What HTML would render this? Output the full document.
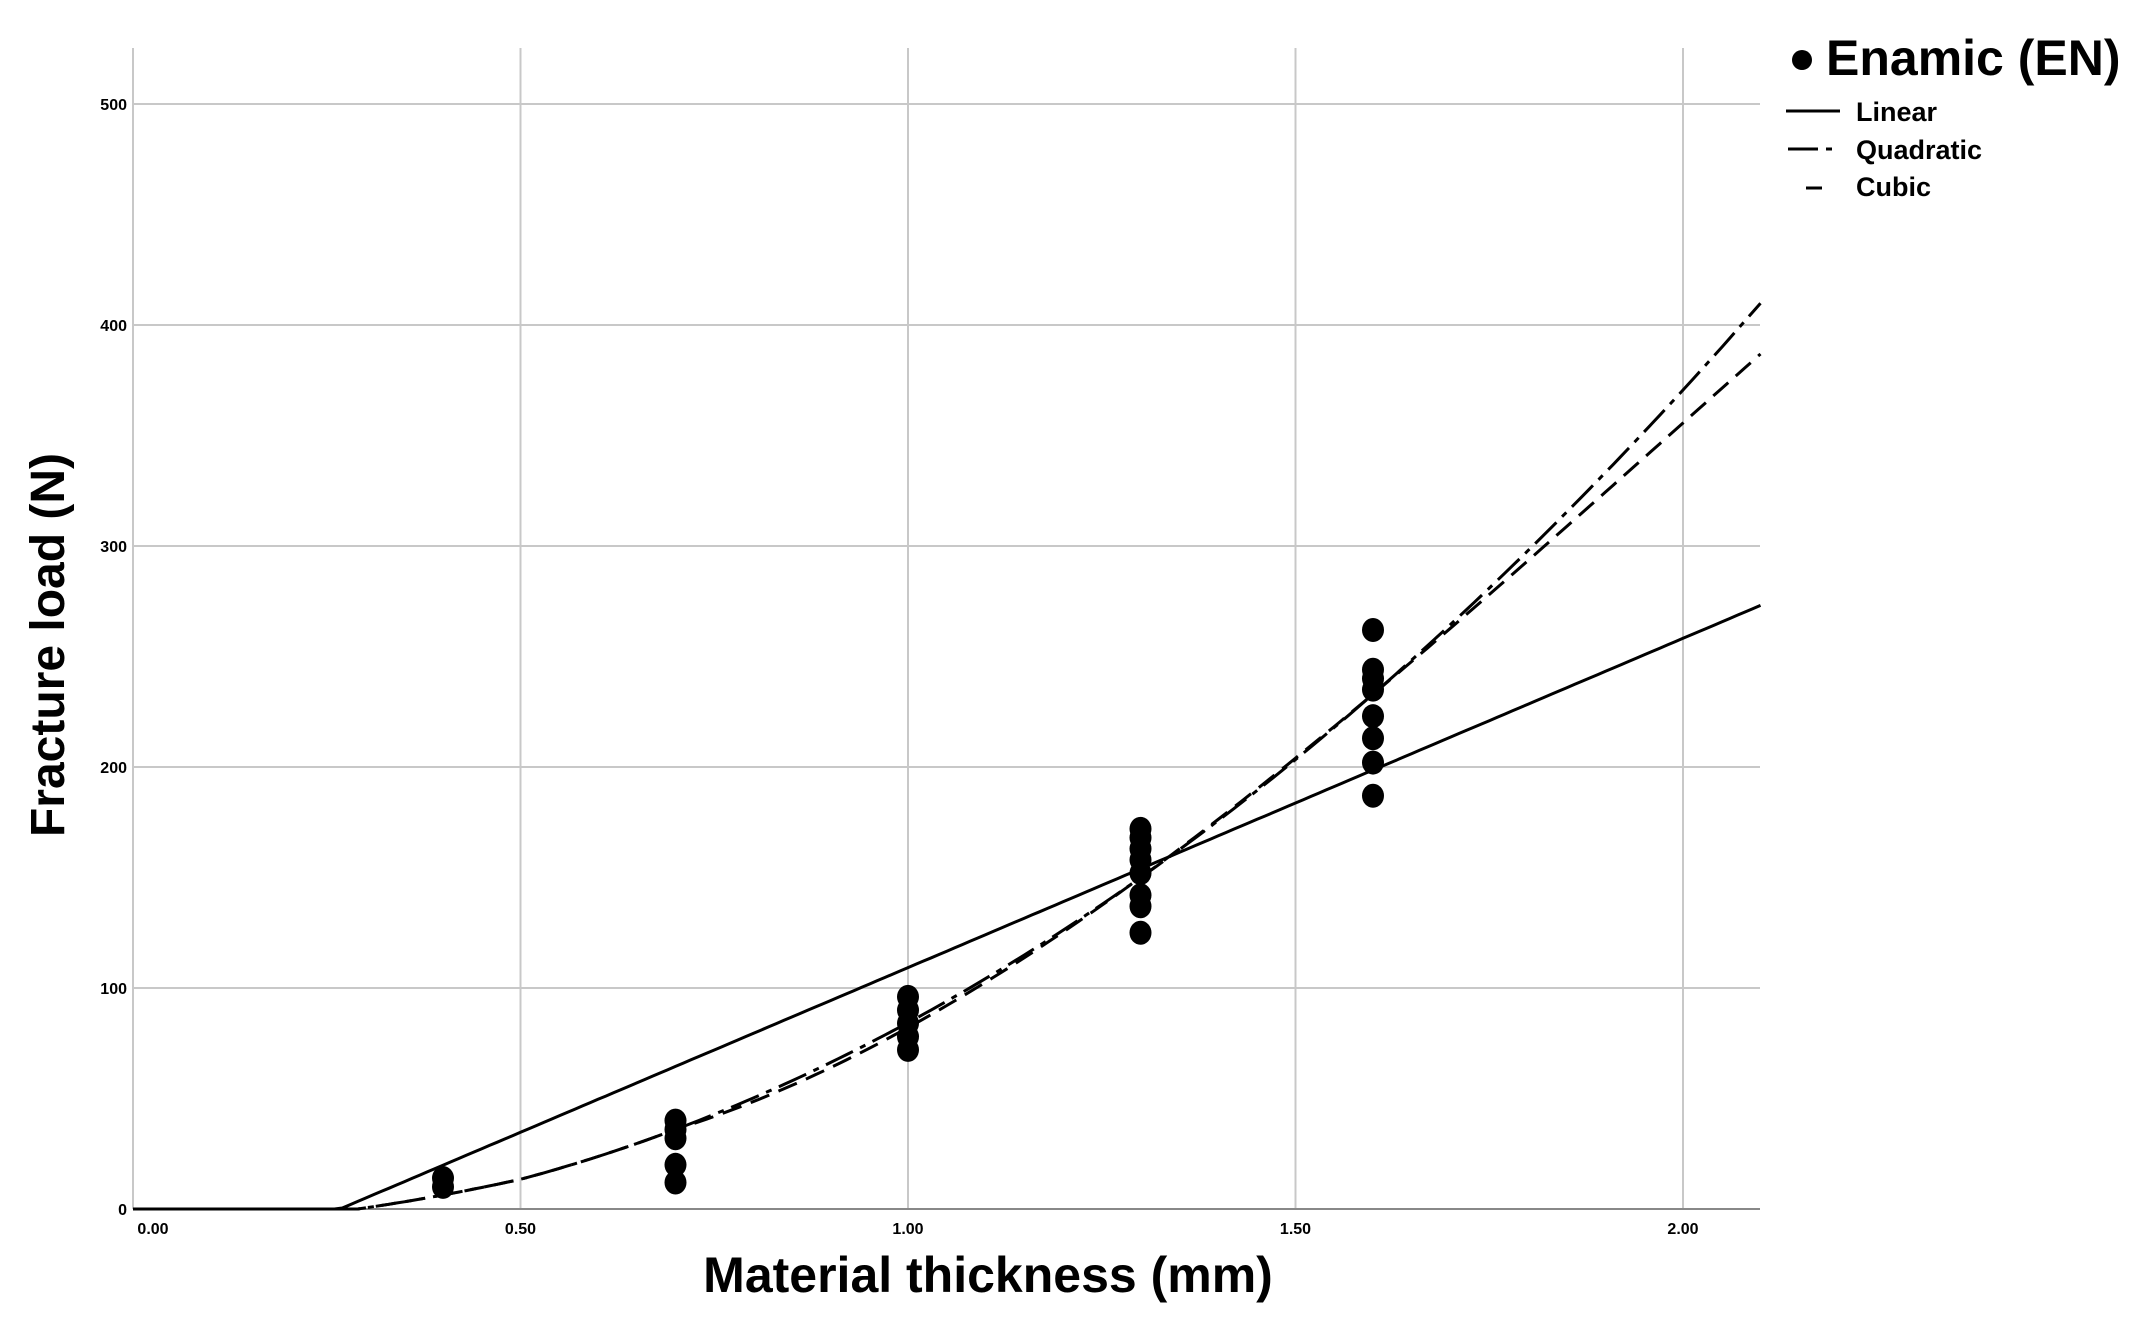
<!DOCTYPE html>
<html><head><meta charset="utf-8"><style>
html,body{margin:0;padding:0;background:#fff;}
svg{display:block;}
text{font-family:"Liberation Sans",Arial,sans-serif;font-weight:bold;fill:#000;}
</style></head><body>
<svg id="s" width="2146" height="1320" viewBox="0 0 2146 1320" xmlns="http://www.w3.org/2000/svg">
<g id="grid" stroke="#c8c8c8" stroke-width="2"></g>
<g id="ticks"></g>
<g id="curves" fill="none" stroke="#000" stroke-width="3"></g>
<g id="pts" fill="#000"></g>
<text x="988" y="1292" font-size="50" text-anchor="middle">Material thickness (mm)</text>
<text transform="translate(64,645) rotate(-90)" font-size="48" text-anchor="middle">Fracture load (N)</text>
<circle cx="1802" cy="60" r="10" fill="#000"/>
<text x="1826" y="75" font-size="50">Enamic (EN)</text>
<line x1="1786" y1="111" x2="1840" y2="111" stroke="#000" stroke-width="3"/>
<text x="1856" y="121" font-size="27">Linear</text>
<line x1="1788" y1="149" x2="1818" y2="149" stroke="#000" stroke-width="3"/>
<line x1="1826" y1="149" x2="1832" y2="149" stroke="#000" stroke-width="3"/>
<text x="1856" y="159" font-size="27">Quadratic</text>
<line x1="1806" y1="188" x2="1822" y2="188" stroke="#000" stroke-width="3"/>
<text x="1856" y="196" font-size="27">Cubic</text>
</svg>
<script>
var NS="http://www.w3.org/2000/svg";
function X(v){return 133+775*v;} function Y(v){return 1209-2.21*v;}
var L=133,R=1760,T=48,B=1209;
function el(p,t,a,txt){var e=document.createElementNS(NS,t);for(var k in a)e.setAttribute(k,a[k]);if(txt!==undefined)e.textContent=txt;document.getElementById(p).appendChild(e);return e;}
[0,0.5,1,1.5,2].forEach(function(v){el("grid","line",{x1:X(v),x2:X(v),y1:T,y2:B});
 el("ticks","text",{x:X(v)+(v==0?20:0),y:1234,"font-size":16,"text-anchor":"middle"},v.toFixed(2));});
[100,200,300,400,500].forEach(function(v){el("grid","line",{x1:L,x2:R,y1:Y(v),y2:Y(v)});});
[0,100,200,300,400,500].forEach(function(v){el("ticks","text",{x:127,y:Y(v)+6,"font-size":16,"text-anchor":"end"},v);});
el("ticks","line",{x1:L,x2:R,y1:B,y2:B,stroke:"#888","stroke-width":2});
function path(f,x0,dash){var d="";for(var x=x0;x<=2.1001;x+=0.01){var y=Math.max(0,f(x));d+=(d?"L":"M")+X(x).toFixed(1)+","+Y(y).toFixed(1);}
 var a={d:d};if(dash)a["stroke-dasharray"]=dash;el("curves","path",a);}
function q(x){return 96.4*x*x-2.9*x-9.2+ (x<0.5?8*Math.pow((0.5-x)/0.5,1)*x*2:0);}
function c(x){return q(x)-(x>0.7?41*(x-0.7)*(x-1.3)*(x-1.6):0);}
path(function(x){return 149*(x-0.267);},0.0);
path(q,0.12,"30 8 6 8");
path(c,0.12,"20 10");
var data={0.4:[10,14],0.7:[12,20,32,36,40],1.0:[72,78,84,90,96],1.3:[125,137,142,152,158,163,168,172],1.6:[187,202,213,223,235,240,244,262]};
for(var k in data)data[k].forEach(function(v){el("pts","ellipse",{cx:X(+k),cy:Y(v),rx:11,ry:12});});
</script>
</body></html>
